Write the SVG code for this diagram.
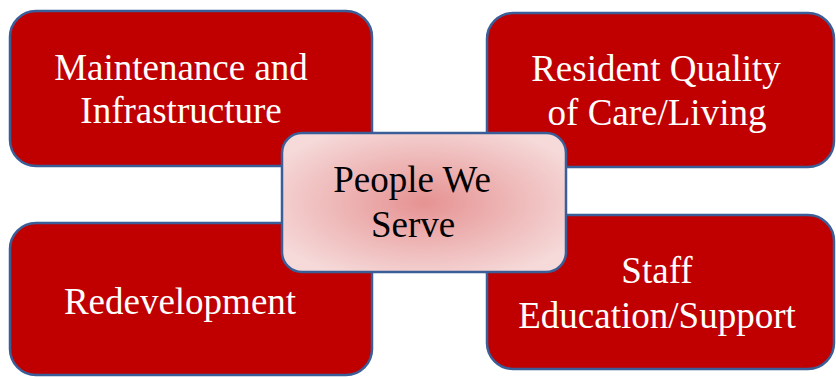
<svg xmlns="http://www.w3.org/2000/svg" width="836" height="377" viewBox="0 0 836 377">
  <style>
    .outer { fill: #C00000; stroke: #3A5E98; stroke-width: 2.5; }
    .center { fill: url(#cg); stroke: #3A5E98; stroke-width: 2.5; }
    .lbl { font-family: "Liberation Serif", "Times New Roman", serif; font-size: 37px; text-anchor: middle; }
    .w { fill: #FFFFFF; }
    .b { fill: #000000; }
  </style>
  <defs>
    <radialGradient id="cg" cx="50%" cy="50%" r="60%">
      <stop offset="0" stop-color="#E69292"/>
      <stop offset="1" stop-color="#F6DADA"/>
    </radialGradient>
  </defs>
  <g id="connectors"></g>
  <g id="maintenance">
    <rect class="outer" x="10" y="11" width="362" height="155" rx="26" ry="26"/>
    <text class="lbl w" x="181" y="80">Maintenance and</text>
    <text class="lbl w" x="181" y="123">Infrastructure</text>
  </g>
  <g id="resident">
    <rect class="outer" x="487" y="13" width="347" height="154" rx="26" ry="26"/>
    <text class="lbl w" x="656" y="81">Resident Quality</text>
    <text class="lbl w" x="657" y="125">of Care/Living</text>
  </g>
  <g id="redevelopment">
    <rect class="outer" x="10" y="223" width="362" height="152" rx="26" ry="26"/>
    <text class="lbl w" x="180" y="314">Redevelopment</text>
  </g>
  <g id="staff">
    <rect class="outer" x="487" y="215" width="347" height="154" rx="26" ry="26"/>
    <text class="lbl w" x="657" y="283">Staff</text>
    <text class="lbl w" x="657" y="328">Education/Support</text>
  </g>
  <g id="people">
    <rect class="center" x="282" y="133" width="284" height="139" rx="20" ry="20"/>
    <text class="lbl b" x="412" y="192">People We</text>
    <text class="lbl b" x="413" y="237">Serve</text>
  </g>
</svg>
